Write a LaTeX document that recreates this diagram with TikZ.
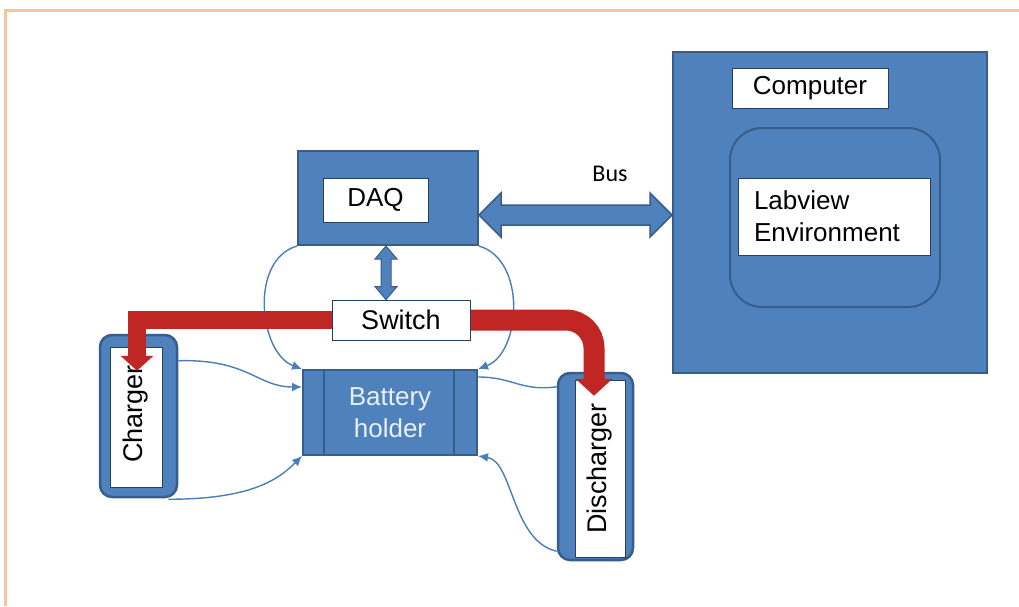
\documentclass[tikz,border=0pt]{standalone}
\usepackage{fontspec}
\setmainfont{Liberation Sans}
\newfontfamily\busfont{Carlito}
\usetikzlibrary{arrows.meta,calc}
\definecolor{boxblue}{RGB}{79,129,189}
\definecolor{edgeblue}{RGB}{56,93,138}
\definecolor{linkblue}{RGB}{74,126,187}
\definecolor{flowred}{RGB}{192,38,36}
\definecolor{frameorange}{RGB}{242,196,160}
\definecolor{holdertext}{RGB}{232,240,250}
\begin{document}
\begin{tikzpicture}[x=1pt,y=-1pt,
  font=\fontsize{26}{32}\selectfont,
  panel/.style={draw=edgeblue, line width=2pt, fill=boxblue, inner sep=0pt},
  tagbox/.style={draw=edgeblue!70!black, line width=0.8pt, fill=white, inner sep=0pt, text=black},
  link/.style={draw=linkblue, line width=1.4pt, -{Latex[length=10pt,width=9pt]}},
  wire/.style={draw=linkblue, line width=1.4pt},
  flow/.style={draw=flowred, line join=miter},
  fatarrow/.style={draw=edgeblue, line width=1.5pt, fill=boxblue, line join=miter}]

\useasboundingbox (0,0) rectangle (1019,606);
\fill[white] (0,0) rectangle (1019,606);
\draw[frameorange, line width=3pt] (5,606) -- (5,10) -- (1019,10);

% computer with the Labview environment
\node[panel, minimum width=314pt, minimum height=321pt] (computer) at (830,212.5) {};
\node[panel, rounded corners=32pt, minimum width=210pt, minimum height=179pt] (env) at (835,217.5) {};
\node[tagbox, minimum width=156pt, minimum height=40pt] (comptag) at (810,88) {Computer};
\node[tagbox, minimum width=192pt, minimum height=77pt, text width=160pt, align=left] (labview) at (834,216.5) {Labview\\Environment};

% data acquisition unit
\node[panel, minimum width=180pt, minimum height=94pt] (daq) at (388,198) {};
\node[tagbox, minimum width=105pt, minimum height=44pt] (daqtag) at (375.5,200) {DAQ};

% battery holder
\node[panel, minimum width=174pt, minimum height=85pt, text=holdertext, align=center] (battery) at (390,412.5) {Battery\\holder};
\draw[edgeblue, line width=1.5pt] ($(battery.north west)+(22,0)$) -- ($(battery.south west)+(22,0)$);
\draw[edgeblue, line width=1.5pt] ($(battery.north east)+(-24,0)$) -- ($(battery.south east)+(-24,0)$);

% charger and discharger
\node[panel, rounded corners=12pt, line width=2.5pt, minimum width=77pt, minimum height=162pt] (charger) at (138.5,416) {};
\node[tagbox, minimum width=52pt, minimum height=140pt] (chtag) at (136,417) {};
\node[rotate=90, inner sep=0pt, font=\fontsize{27}{32}\selectfont] (chtext) at ($(chtag.center)+(0,-3)$) {Charger};
\node[panel, rounded corners=12pt, line width=2.5pt, minimum width=75pt, minimum height=187pt] (discharger) at (595.5,466.5) {};
\node[tagbox, rotate=90, minimum width=177pt, minimum height=50pt, font=\fontsize{27}{32}\selectfont] (dchtag) at (600,468.5) {Discharger};

% bus between DAQ and computer
\path (daq.east) ++(0,17) coordinate (busL);
\coordinate (busR) at (busL -| computer.west);
\filldraw[fatarrow] (busL) -- ++(22,-22) -- ++(0,12) -- ($(busR)+(-22,-10)$) -- ++(0,-12)
  -- (busR) -- ++(-22,22) -- ++(0,-12) -- ($(busL)+(22,10)$) -- ++(0,12) -- cycle;
\node[font=\busfont\fontsize{24}{28}\selectfont] (buslabel) at (610,174) {Bus};

% thin signal lines
\draw[link] (daq.south west) .. controls +(-48,14) and +(-43,-16) .. (battery.north west);
\draw[link] (daq.south east) .. controls +(48,14) and +(43,-16) .. (battery.north east);
\draw[link] ($(charger.north east)+(0,27)$) .. controls +(70,-2) and +(-45,0) .. ($(battery.north west)+(0,18)$);
\draw[link] ($(charger.south east)+(-10,1)$) .. controls +(80,0) and +(-25,25) .. (battery.south west);
\draw[wire] ($(discharger.north west)+(0,15)$) .. controls +(-35,5) and +(35,0) .. ($(battery.north east)+(0,8)$);
\draw[link] ($(discharger.south west)+(0,-10)$) .. controls +(-45,-10) and +(35,5) .. (battery.south east);

% power routing through the switch
\coordinate (sw) at (401,320);
\coordinate (chin) at ($(charger.north)+(-1.5,37)$);
\coordinate (dchin) at ($(discharger.north)+(-1.5,24)$);
\draw[flow, line width=18pt, -{Triangle[length=15pt,width=32pt]}] (sw) -| (chin);
\draw[flow, line width=21pt, rounded corners=28pt, -{Triangle[length=17pt,width=36pt]}] (sw) -| (dchin);

\node[tagbox, minimum width=138pt, minimum height=40pt, font=\fontsize{27}{30}\selectfont] (switch) at (sw) {Switch};

% DAQ to switch link
\path (daq.south) ++(-2,0) coordinate (dsT);
\coordinate (dsB) at (dsT |- switch.north);
\filldraw[fatarrow, line width=1pt] (dsT) -- ++(11,13) -- ++(-6,0) -- ($(dsB)+(5,-13)$) -- ++(6,0)
  -- (dsB) -- ++(-11,-13) -- ++(6,0) -- ($(dsT)+(-5,13)$) -- ++(-6,0) -- cycle;
\end{tikzpicture}
\end{document}
